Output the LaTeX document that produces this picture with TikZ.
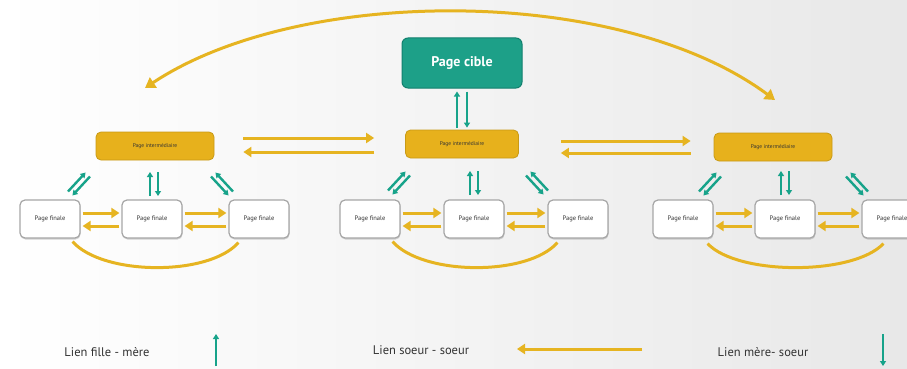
\documentclass[tikz,border=0pt]{standalone}
\usepackage{fontspec}
\setmainfont{PT Sans}
\usetikzlibrary{arrows.meta,shadows,calc}
\definecolor{gold}{HTML}{E6B421}
\definecolor{goldbox}{HTML}{E7B11C}
\definecolor{goldedge}{HTML}{C89A16}
\definecolor{tealc}{HTML}{17A38A}
\definecolor{tealbox}{HTML}{1DA088}
\definecolor{tealedge}{HTML}{12806E}
\tikzset{
  cible/.style={draw=tealedge, fill=tealbox, rounded corners=6pt, line width=1pt,
    minimum width=120pt, minimum height=50pt, text=white, font=\fontsize{14}{16}\selectfont\bfseries},
  inter/.style={draw=goldedge, fill=goldbox, rounded corners=5pt, line width=0.8pt,
    minimum width=118pt, minimum height=28pt, text=black!80, font=\fontsize{5.5}{6}\selectfont},
  leaf/.style={draw=gray!70, fill=white, rounded corners=5pt, line width=1.2pt,
    minimum width=60pt, minimum height=38pt, text=black!80, font=\fontsize{6.5}{7}\selectfont,
    drop shadow={shadow xshift=0.5pt, shadow yshift=-1.5pt, opacity=0.35}},
  goldarrow/.style={draw=gold, line width=3pt, -{Triangle[length=8pt,width=10pt]}},
  goldline/.style={draw=gold, line width=3pt},
  tealarrow/.style={draw=tealc, line width=2.4pt, -{Triangle[length=5pt,width=6pt]}},
  legend/.style={text=black!80, font=\fontsize{12.5}{14}\selectfont}
}
\newcommand\diagpair[3]{%
  \begin{scope}[shift={(#1,#2)}, xscale=#3]
    \draw[tealarrow] (11,7.5) -- (-6.6,-11.5);
    \draw[tealarrow] (-11,-7.5) -- (6.6,11.5);
  \end{scope}}
\newcommand\vertpair[2]{%
  \begin{scope}[shift={(#1,#2)}]
    \draw[tealarrow] (-4,12) -- (-4,-12);
    \draw[tealarrow] (4,-12) -- (4,12);
  \end{scope}}
\begin{document}
\begin{tikzpicture}[x=1pt,y=-1pt]
\useasboundingbox (0,0) rectangle (907,369);
\clip (0,0) rectangle (907,369);
\fill[left color=white, right color=gray!18] (0,0) rectangle (907,369);

% nodes
\node[cible] (cible) at (462,63) {Page cible};
\node[inter] (iL) at (155,146) {Page intermédiaire};
\node[inter, minimum width=113pt] (iM) at (462,144) {Page intermédiaire};
\node[inter] (iR) at (773,147) {Page intermédiaire};

\node[leaf] (l1) at (50,219) {Page finale};
\node[leaf] (l2) at (152,219) {Page finale};
\node[leaf] (l3) at (259,219) {Page finale};
\node[leaf] (m1) at (370,219) {Page finale};
\node[leaf] (m2) at (474,219) {Page finale};
\node[leaf] (m3) at (578,219) {Page finale};
\node[leaf] (r1) at (683,219) {Page finale};
\node[leaf] (r2) at (785,219) {Page finale};
\node[leaf] (r3) at (892,219) {Page finale};

% big arc
\coordinate (arcL) at (145,88);
\coordinate (arcR) at (775,100);
\draw[goldline, {Triangle[length=10pt,width=12pt]}-{Triangle[length=10pt,width=12pt]}]
  (arcL) .. controls (300,-15) and (620,-15) .. (arcR);

% cible <-> middle intermediate
\draw[tealarrow, shorten <=2pt, shorten >=3pt] ([xshift=-5pt]iM.north) -- ([xshift=-5pt]cible.south);
\draw[tealarrow, shorten <=3pt, shorten >=2pt] ([xshift=5pt]cible.south) -- ([xshift=5pt]iM.north);

% intermediate <-> intermediate
\draw[goldarrow, shorten <=29pt, shorten >=31pt] ([yshift=8pt]iL.east) -- ([yshift=6pt]iM.west);
\draw[goldarrow, shorten <=31pt, shorten >=29pt] ([yshift=-8pt]iM.west) -- ([yshift=-6pt]iL.east);
\draw[goldarrow, shorten <=42pt, shorten >=23pt] ([yshift=3pt]iM.east) -- ([yshift=6pt]iR.west);
\draw[goldarrow, shorten <=23pt, shorten >=42pt] ([yshift=-6pt]iR.west) -- ([yshift=-9pt]iM.east);

% leaf <-> leaf
\foreach \a/\b in {l1/l2,l2/l3,m1/m2,m2/m3,r1/r2,r2/r3}{
  \draw[goldarrow, shorten <=2pt, shorten >=2pt] ([yshift=6pt]\a.east) -- ([yshift=6pt]\b.west);
  \draw[goldarrow, shorten <=2pt, shorten >=2pt] ([yshift=-7pt]\b.west) -- ([yshift=-7pt]\a.east);
}

% bottom curves
\draw[goldline] ([xshift=-8pt,yshift=-3pt]l1.south east) .. controls +(30,34) and +(-30,34) .. ([xshift=10pt,yshift=-4pt]l3.south west);
\draw[goldline] ([xshift=-8pt,yshift=-3pt]m1.south east) .. controls +(30,34) and +(-30,34) .. ([xshift=10pt,yshift=-4pt]m3.south west);
\draw[goldline] ([xshift=-6pt,yshift=-5pt]r1.south east) .. controls +(30,32) and +(-30,32) .. ([xshift=22pt,yshift=-5pt]r3.south west);

% teal pairs intermediate <-> leaves
\diagpair{79}{184}{-1}
\vertpair{154}{184}
\diagpair{222}{184}{1}
\diagpair{399}{183}{-1}
\vertpair{474}{183}
\diagpair{537}{183}{1}
\diagpair{710}{184}{-1}
\vertpair{785}{183}
\diagpair{857}{184}{1}

% legend
\node[legend] (lg1) at (107,352) {Lien fille - mère};
\coordinate (lg1a) at (216,366);
\coordinate (lg1b) at (216,334);
\draw[tealarrow] (lg1a) -- (lg1b);
\node[legend] (lg2) at (421,350) {Lien soeur - soeur};
\coordinate (lg2a) at (642,349);
\coordinate (lg2b) at (517,349);
\draw[goldarrow] (lg2a) -- (lg2b);
\node[legend] (lg3) at (763,352) {Lien mère- soeur};
\coordinate (lg3a) at (883,334);
\coordinate (lg3b) at (883,366);
\draw[tealarrow] (lg3a) -- (lg3b);
\end{tikzpicture}
\end{document}
